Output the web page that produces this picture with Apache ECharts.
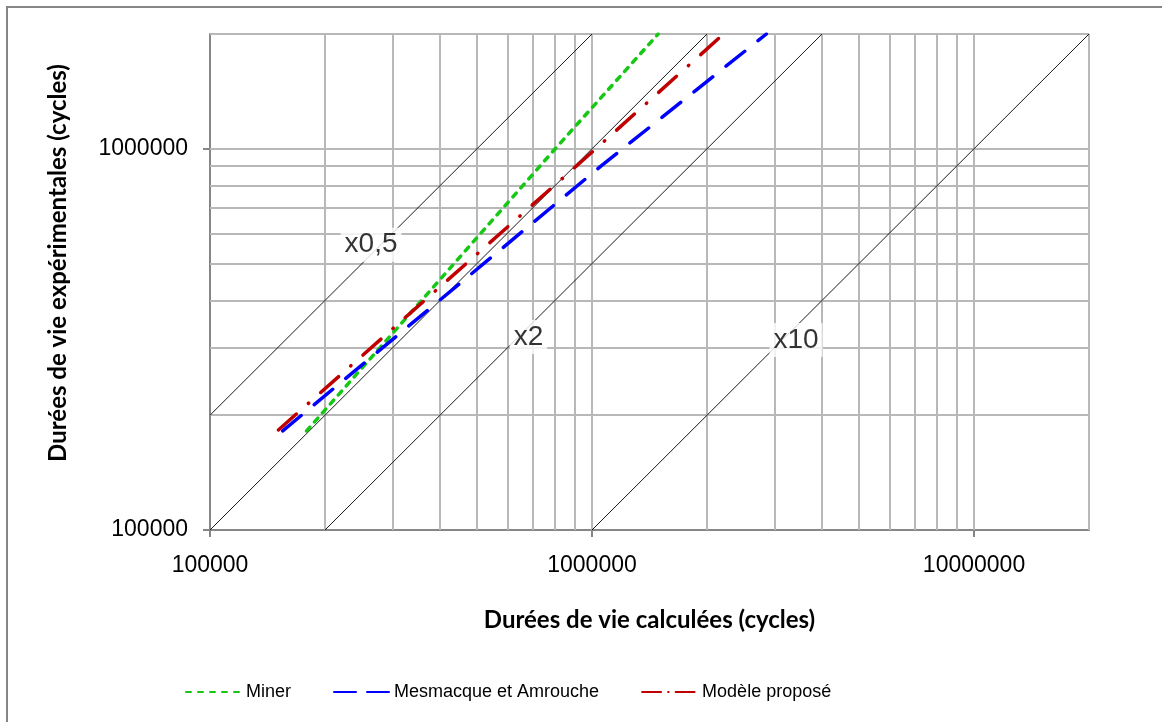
<!DOCTYPE html>
<html>
<head>
<meta charset="utf-8">
<title>Durées de vie</title>
<script src="https://cdn.jsdelivr.net/npm/echarts@6.0.0/dist/echarts.min.js"></script>
<style>
  html, body { margin: 0; padding: 0; background: #fff; }
  #chart { width: 1162px; height: 722px; }
</style>
</head>
<body>
<div id="chart"></div>
<script>
// durées calculées (x) / expérimentales (y)
var minerX = [179000, 811000, 1490000];
var minerY = [182000, 1014000, 2000000];
var mesmX = [155000, 1053000, 2860000];
var mesmY = [182000, 899000, 2000000];
var modeleX = [151000, 1005000, 2210000];
var modeleY = [183000, 984000, 2000000];

// droites de référence y = x / k et leurs étiquettes
var refFactors = [0.5, 1, 2, 10];
var refLabels = ['x0,5', 'x2', 'x10'];
var refLabelX = [264000, 682000, 3420000];
var refLabelY = [560000, 321000, 315000];

var xTicks = [100000, 1000000, 10000000];
var yTicks = [100000, 1000000];
var xGrid = [200000, 300000, 400000, 500000, 600000, 700000, 800000, 900000, 1000000,
  2000000, 3000000, 4000000, 5000000, 6000000, 7000000, 8000000, 9000000, 10000000, 20000000];
var yGrid = [200000, 300000, 400000, 500000, 600000, 700000, 800000, 900000, 1000000, 2000000];

var X_MIN = 100000, X_MAX = 20000000, Y_MIN = 100000, Y_MAX = 2000000;

function zip(a, b) {
  return a.map(function (v, i) { return [v, b[i]]; });
}

var chart = echarts.init(document.getElementById('chart'), null, { renderer: 'canvas' });

var gridColor = '#b8b8b8';
var axisColor = '#868686';
var textFont = '"Liberation Sans", Arial, sans-serif';
var titleFont = 'Lato, "Open Sans", sans-serif';

var refSeries = refFactors.map(function (k, i) {
  var x0 = Math.max(X_MIN, Y_MIN * k), x1 = Math.min(X_MAX, Y_MAX * k);
  var s = {
    type: 'line',
    name: 'ref' + i,
    data: [[x0, x0 / k], [x1, x1 / k]],
    symbol: 'none',
    silent: true,
    z: 2,
    lineStyle: { color: '#1a1a1a', width: 1 }
  };
  if (i === 0) {
    // quadrillage principal et secondaire (log)
    s.markLine = {
      silent: true,
      symbol: 'none',
      z: 1,
      label: { show: false },
      animation: false,
      lineStyle: { color: gridColor, width: 2, type: 'solid' },
      data: xGrid.map(function (v) { return { xAxis: v }; })
        .concat(yGrid.map(function (v) { return { yAxis: v }; }))
    };
  }
  return s;
});

var option = {
  animation: false,
  backgroundColor: '#fff',
  graphic: [{
    type: 'rect',
    shape: { x: 7, y: 7, width: 1400, height: 1000 },
    style: { fill: 'none', stroke: axisColor, lineWidth: 2 },
    silent: true
  }],
  grid: { left: 210, right: 73, top: 34, bottom: 192 },
  legend: {
    left: 180,
    top: 678,
    itemWidth: 55,
    itemHeight: 14,
    itemGap: 42,
    itemStyle: { opacity: 0 },
    data: [
      { name: 'Miner' },
      { name: 'Mesmacque et Amrouche', lineStyle: { type: [22, 11] } },
      { name: 'Modèle proposé', lineStyle: { type: [19, 7, 0.5, 7] } }
    ],
    textStyle: { fontFamily: textFont, fontSize: 18, color: '#000' }
  },
  xAxis: {
    type: 'log',
    logBase: 10,
    min: X_MIN,
    max: X_MAX,
    name: 'Durées de vie calculées (cycles)',
    nameLocation: 'middle',
    nameGap: 78,
    nameTextStyle: { fontFamily: titleFont, fontWeight: 'bold', fontSize: 24, color: '#000' },
    axisLine: { show: true, lineStyle: { color: axisColor, width: 2 } },
    axisTick: { show: true, length: 7, lineStyle: { color: axisColor, width: 2 }, customValues: xTicks },
    axisLabel: {
      margin: 24, fontFamily: textFont, fontSize: 23, color: '#000',
      customValues: xTicks,
      formatter: function (v) { return String(Math.round(v)); }
    },
    splitLine: { show: false }
  },
  yAxis: {
    type: 'log',
    logBase: 10,
    min: Y_MIN,
    max: Y_MAX,
    name: 'Durées de vie expérimentales (cycles)',
    nameLocation: 'middle',
    nameGap: 140,
    nameTextStyle: {
      fontFamily: titleFont, fontWeight: 'bold', fontSize: 24, color: '#000',
      padding: [0, 0, 0, 38]
    },
    axisLine: { show: true, lineStyle: { color: axisColor, width: 2 } },
    axisTick: { show: true, length: 7, lineStyle: { color: axisColor, width: 2 }, customValues: yTicks },
    axisLabel: {
      margin: 22, fontFamily: textFont, fontSize: 23, color: '#000',
      customValues: yTicks,
      formatter: function (v) { return String(Math.round(v)); }
    },
    splitLine: { show: false }
  },
  series: refSeries.concat([
    {
      type: 'scatter',
      name: 'labels',
      silent: true,
      symbolSize: 0,
      z: 4,
      data: refLabels.map(function (t, i) { return { name: t, value: [refLabelX[i], refLabelY[i]] }; }),
      label: {
        show: true,
        position: 'inside',
        formatter: '{b}',
        fontFamily: textFont,
        fontSize: 28,
        color: '#000',
        backgroundColor: '#fff',
        padding: [3, 4]
      }
    },
    {
      type: 'line',
      name: 'Miner',
      data: zip(minerX, minerY),
      symbol: 'none',
      z: 5,
      color: '#14c814',
      lineStyle: { color: '#14c814', width: 3.5, type: [5, 7], cap: 'round' }
    },
    {
      type: 'line',
      name: 'Mesmacque et Amrouche',
      data: zip(mesmX, mesmY),
      symbol: 'none',
      z: 5,
      color: '#0000ff',
      lineStyle: { color: '#0000ff', width: 3.5, type: [24, 17], cap: 'round' }
    },
    {
      type: 'line',
      name: 'Modèle proposé',
      data: zip(modeleX, modeleY),
      symbol: 'none',
      z: 5,
      color: '#c00000',
      lineStyle: { color: '#c00000', width: 3.5, type: [24, 16, 0.5, 16], cap: 'round' }
    }
  ])
};

chart.setOption(option);
</script>
</body>
</html>
